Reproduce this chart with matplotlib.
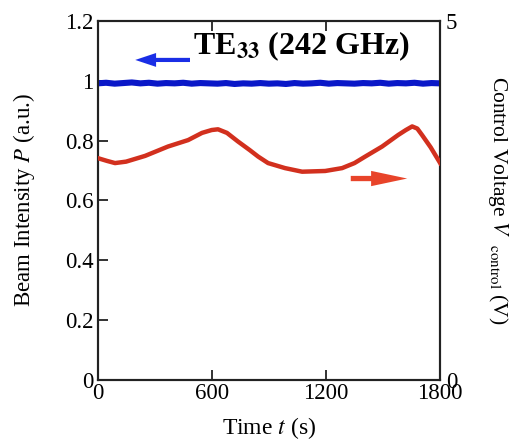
import numpy as np
import matplotlib
matplotlib.use("Agg")
import matplotlib.pyplot as plt

plt.rcParams['font.family'] = ['Liberation Serif', 'DejaVu Serif']
plt.rcParams['mathtext.fontset'] = 'stix'

# blue: beam intensity (left axis)
t_blue = [0, 45, 90, 135, 180, 225, 270, 315, 360, 405, 450, 495, 540, 585, 630,
          675, 720, 765, 810, 855, 900, 945, 990, 1035, 1080, 1125, 1170, 1215,
          1260, 1305, 1350, 1395, 1440, 1485, 1530, 1575, 1620, 1665, 1710, 1755, 1800]
p_blue = [0.991, 0.993, 0.990, 0.992, 0.994, 0.991, 0.993, 0.990, 0.992, 0.991,
          0.993, 0.990, 0.992, 0.991, 0.990, 0.992, 0.989, 0.991, 0.990, 0.992,
          0.990, 0.991, 0.989, 0.992, 0.990, 0.991, 0.993, 0.990, 0.992, 0.991,
          0.990, 0.992, 0.991, 0.993, 0.990, 0.992, 0.991, 0.993, 0.990, 0.992, 0.991]

# red: control voltage (right axis)
t_red = [0, 50, 92, 150, 250, 370, 476, 549, 600, 633, 680, 738, 800, 844, 896,
         985, 1075, 1196, 1285, 1350, 1406, 1495, 1579, 1620, 1653, 1680, 1705, 1750, 1800]
v_red = [3.09, 3.05, 3.02, 3.04, 3.12, 3.25, 3.34, 3.44, 3.48, 3.49, 3.44, 3.32,
         3.20, 3.11, 3.02, 2.95, 2.90, 2.91, 2.95, 3.02, 3.11, 3.25, 3.41, 3.48,
         3.53, 3.50, 3.41, 3.24, 3.02]

fig = plt.figure(figsize=(5.16, 4.42), dpi=100)
ax = fig.add_axes([0.189, 0.140, 0.664, 0.813])
ax2 = ax.twinx()

ax.plot(t_blue, p_blue, color='#0a18c8', lw=4.4, zorder=3)
ax2.plot(t_red, v_red, color='#d2301e', lw=3.2, zorder=3)

ax.set_xlim(0, 1800)
ax.set_ylim(0, 1.2)
ax2.set_ylim(0, 5)
ax.set_xticks([0, 600, 1200, 1800])
ax.set_yticks([0, 0.2, 0.4, 0.6, 0.8, 1.0, 1.2])
ax.set_yticklabels(['0', '0.2', '0.4', '0.6', '0.8', '1', '1.2'])
ax2.set_yticks([0, 5])
ax2.set_yticklabels(['0', '5'])

ax.tick_params(axis='both', direction='in', labelsize=16.5, length=7, width=1.3,
               top=True, right=False, pad=3, colors='#222222', labelcolor='black')
ax.tick_params(axis='x', pad=2)
ax2.tick_params(axis='y', direction='in', length=0, labelsize=16.5, pad=4)

for a in (ax, ax2):
    for s in a.spines.values():
        s.set_linewidth(1.5)
        s.set_color('#222222')

ax.set_xlabel(r'Time $t$ (s)', fontsize=17, labelpad=8)
ax.set_ylabel(r'Beam Intensity $P$ (a.u.)', fontsize=16.5, labelpad=20)
ax2.set_ylabel(r'Control Voltage $V$  $_{\mathrm{control}}$ (V)', fontsize=15.5,
               rotation=270, labelpad=38)

ax.text(0.279, 0.930, r'TE$_{\mathbf{33}}$ (242 GHz)', transform=ax.transAxes,
        fontsize=23, fontweight='bold', ha='left', va='center')

ax.annotate('', xy=(0.102, 0.891), xytext=(0.278, 0.891), xycoords='axes fraction',
            arrowprops=dict(arrowstyle='simple,head_length=1.5,head_width=1.0,tail_width=0.3',
                            mutation_scale=10, color='#1a2ee6', lw=0))
ax.annotate('', xy=(0.912, 0.561), xytext=(0.731, 0.561), xycoords='axes fraction',
            arrowprops=dict(arrowstyle='simple,head_length=2.6,head_width=1.1,tail_width=0.38',
                            mutation_scale=10, color='#e8442a', lw=0))

fig.savefig('out.png', dpi=100)
